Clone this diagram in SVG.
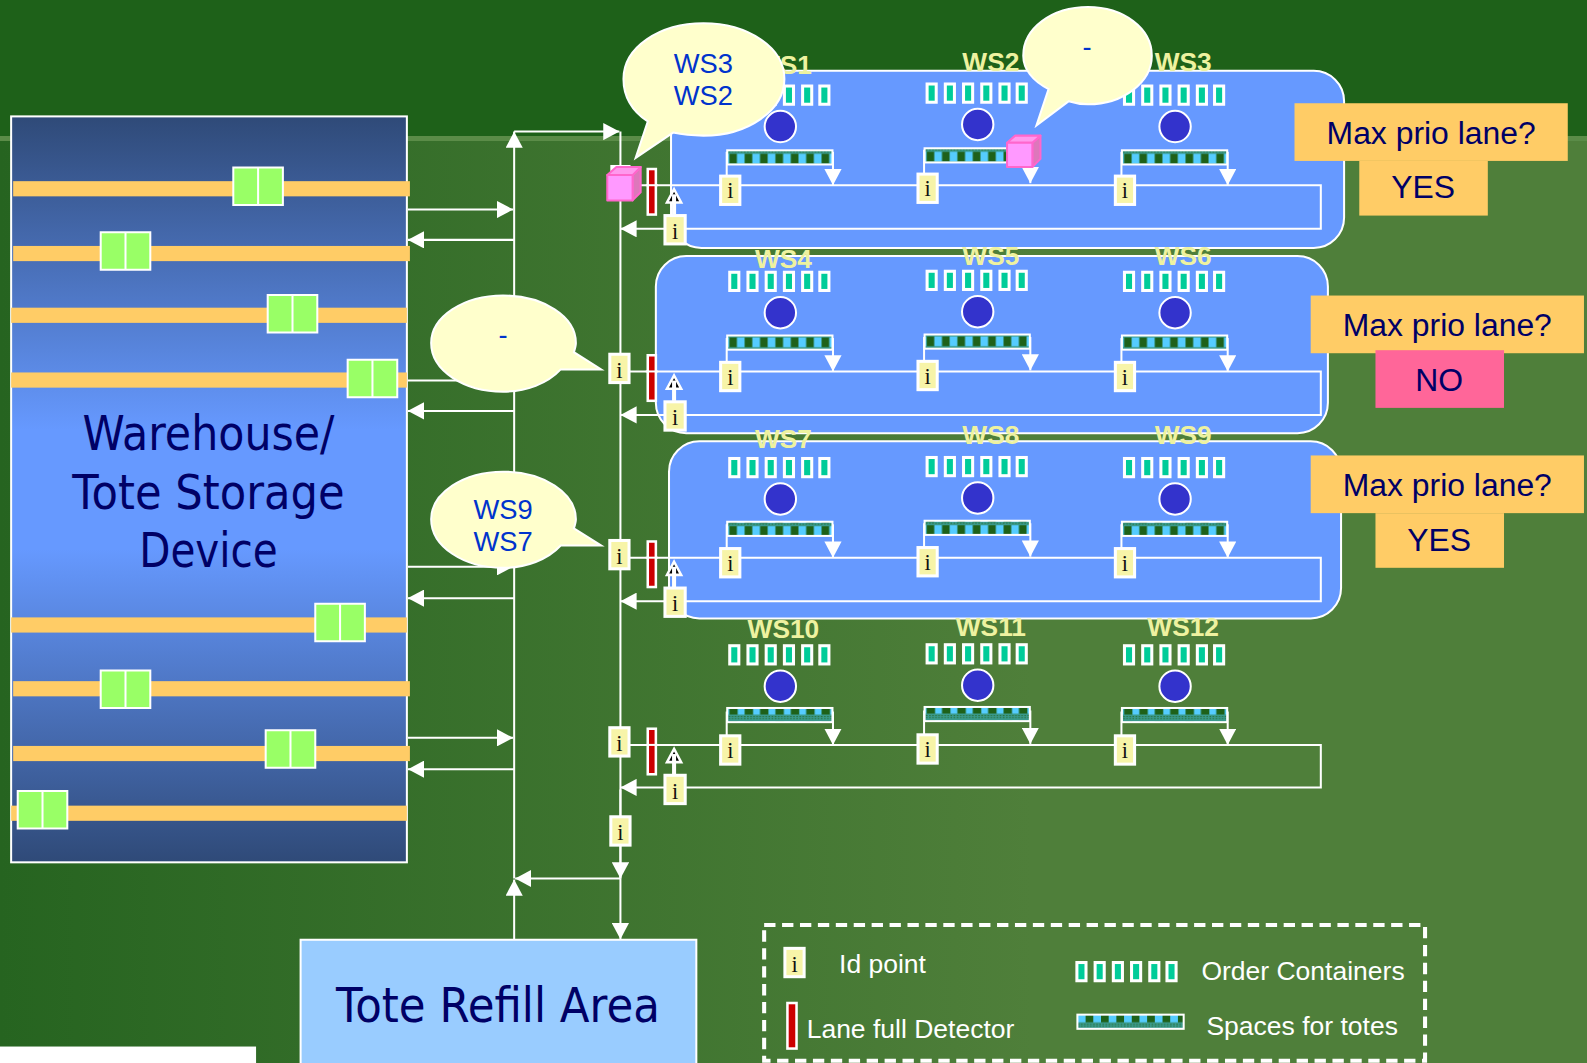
<svg xmlns="http://www.w3.org/2000/svg" width="1587" height="1063" viewBox="0 0 1587 1063">
<style>
.c{fill:none;stroke:#fff;stroke-width:2}
.ar{marker-end:url(#tri)}
.pan{fill:#6699ff;stroke:#fff;stroke-width:2}
.lane{fill:#ffcc66}
.tote{fill:#99ff66;stroke:#fff;stroke-width:2}
.ib{fill:#f7f4a8;stroke:#fff;stroke-width:3}
.it{font:22px "Liberation Serif",serif;fill:#111;text-anchor:middle}
.oc{fill:#00cc99;stroke:#fff;stroke-width:3}
.det{fill:#cc0000;stroke:#fff;stroke-width:2.500}
.lbl{font:bold 26px "Liberation Sans",Arial,sans-serif;fill:#eef2a0;text-anchor:middle}
.bub{fill:#ffffcc;stroke:#fff;stroke-width:2}
.bt{font:27px "Liberation Sans",Arial,sans-serif;fill:#0033cc;text-anchor:middle}
.pr{fill:#ffcc66}
.pt{font:31.500px "Liberation Sans",Arial,sans-serif;fill:#000066;text-anchor:middle}
.big{font:47px "DejaVu Sans",sans-serif;fill:#000066;text-anchor:middle}
.lg{font:26.200px "Liberation Sans",Arial,sans-serif;fill:#fff}
.cube{stroke:#ff66cc;stroke-width:2;stroke-linejoin:round}
.spr{stroke:#fff;stroke-width:2}
.a{fill:url(#spA)}.b{fill:url(#spB)}.d{fill:url(#spC)}
</style>
<defs>
<linearGradient id="bg" x1="0" x2="1" y1="0" y2="0"><stop offset="0" stop-color="#266420"/><stop offset=".65" stop-color="#4f7f3a"/><stop offset="1" stop-color="#4f7f3a"/></linearGradient>
<linearGradient id="wh" x1="0" x2="0" y1="0" y2="1"><stop offset="0" stop-color="#2f4a78"/><stop offset=".42" stop-color="#6699ff"/><stop offset=".58" stop-color="#6699ff"/><stop offset="1" stop-color="#2f4a78"/></linearGradient>
<marker id="tri" markerUnits="userSpaceOnUse" markerWidth="16" markerHeight="17" viewBox="0 0 16 17" refX="16" refY="8.500" orient="auto"><path d="M0 0L16 8.500L0 17Z" fill="#fff"/></marker>
<pattern id="spA" patternUnits="userSpaceOnUse" width="15.200" height="13" x="720" y="149">
<rect width="15.200" height="13" fill="#3a9a8c"/><path d="M0 1h15.200" stroke="#1e6119" stroke-width=".7" stroke-dasharray="1.500 1.500"/><rect x="1" y="3" width="7.200" height="9.500" fill="#1e6119"/><rect x="8.200" y="3" width="7" height="9.500" fill="#55ccff"/>
</pattern>
<pattern id="spB" patternUnits="userSpaceOnUse" width="15.200" height="13" x="720" y="148">
<rect width="15.200" height="13" fill="#3a9a8c"/><rect x="1" y="1.500" width="7.200" height="9.500" fill="#1e6119"/><rect x="8.200" y="1.500" width="7" height="9.500" fill="#55ccff"/>
</pattern>
<pattern id="spC" patternUnits="userSpaceOnUse" width="15.200" height="13" x="720" y="147">
<rect width="15.200" height="13" fill="#3a9a8c"/><path d="M0 8h15.200M0 10h15.200" stroke="#1e6119" stroke-width=".7" stroke-dasharray="1.500 1.500"/><rect x="1" y="0" width="8" height="6" fill="#1e6119"/><rect x="9" y="0" width="6.200" height="6" fill="#55ccff"/>
</pattern>
<pattern id="spL" patternUnits="userSpaceOnUse" width="15.200" height="14" x="1065" y="1003">
<rect width="15.200" height="14" fill="#3a9a8c"/><path d="M0 9h15.200M0 11h15.200" stroke="#1e6119" stroke-width=".7" stroke-dasharray="1.500 1.500"/><rect x="0" y="0" width="7.600" height="7" fill="#55ccff"/><rect x="7.600" y="0" width="7.600" height="7" fill="#1e6119"/>
</pattern>
<g id="oc6">
<rect class="oc" x="721" y="85" width="9" height="18"/><rect class="oc" x="739" y="85" width="9" height="18"/><rect class="oc" x="757" y="85" width="9" height="18"/><rect class="oc" x="775" y="85" width="9" height="18"/><rect class="oc" x="793" y="85" width="9" height="18"/><rect class="oc" x="810" y="85" width="9" height="18"/>
</g>
<g id="base">
<use href="#oc6"/>
<circle cx="771" cy="125" r="15.500" fill="#3333cc" stroke="#fff" stroke-width="2"/>
<path class="c" d="M718 150V175"/><path class="c ar" d="M823 150V183"/>
<rect class="ib" x="712" y="174" width="19" height="28"/>
</g>
<polygon id="upa" points="666,187 673,200 659,200" fill="#000" stroke="#fff" stroke-width="2.500"/>
</defs>

<rect width="1587" height="1063" fill="url(#bg)"/>
<rect width="1587" height="137" fill="#1e6119"/>
<rect y="136" width="1587" height="5" fill="#5b8c48"/>

<g transform="scale(1.01212)">
<rect x="0" y="1034" width="253" height="18" fill="#fff"/>

<g id="panels">
<rect class="pan" x="663" y="70" width="665" height="175" rx="30"/>
<rect class="pan" x="648" y="253" width="664" height="175" rx="30"/>
<rect class="pan" x="661" y="436" width="664" height="175" rx="30"/>
</g>

<g id="warehouse">
<rect x="11" y="115" width="391" height="737" fill="url(#wh)" stroke="#fff" stroke-width="2"/>
<rect class="lane" x="13" y="179" width="392" height="15"/>
<rect class="lane" x="13" y="243" width="392" height="15"/>
<rect class="lane" x="11" y="304" width="391" height="15"/>
<rect class="lane" x="11" y="368" width="391" height="15"/>
<rect class="lane" x="11" y="610" width="391" height="15"/>
<rect class="lane" x="13" y="673" width="392" height="15"/>
<rect class="lane" x="13" y="737" width="392" height="15"/>
<rect class="lane" x="11" y="796" width="391" height="15"/>
<path class="tote" d="M230.500 165.500h49v37h-49zM255 165v38"/>
<path class="tote" d="M99.500 229.500h49v37h-49zM124 229v38"/>
<path class="tote" d="M264.500 291.500h49v37h-49zM289 291v38"/>
<path class="tote" d="M343.500 355.500h49v37h-49zM368 355v38"/>
<path class="tote" d="M311.500 596.500h49v37h-49zM336 596v38"/>
<path class="tote" d="M99.500 662.500h49v37h-49zM124 662v38"/>
<path class="tote" d="M262.500 721.500h49v37h-49zM287 721v38"/>
<path class="tote" d="M17.500 781.500h49v37h-49zM42 781v38"/>
<text class="big" x="206" y="445" textLength="249" lengthAdjust="spacingAndGlyphs">Warehouse/</text>
<text class="big" x="206" y="503" textLength="269" lengthAdjust="spacingAndGlyphs">Tote Storage</text>
<text class="big" x="206" y="560" textLength="137" lengthAdjust="spacingAndGlyphs">Device</text>
</g>

<g id="connectors">
<path class="c ar" d="M508 868V130"/>
<path class="c ar" d="M508 928V869"/>
<path class="c ar" d="M508 130H612"/>
<path class="c" d="M613 130V868"/>
<path class="c ar" d="M613 780V868"/>
<path class="c ar" d="M613 868V928"/>
<path class="c ar" d="M613 868H509"/>
<path class="c ar" d="M403 207H507"/><path class="c ar" d="M508 237H403"/>
<path class="c ar" d="M403 376H507"/><path class="c ar" d="M508 406H403"/>
<path class="c ar" d="M403 560H507"/><path class="c ar" d="M508 591H403"/>
<path class="c ar" d="M403 729H507"/><path class="c ar" d="M508 760H403"/>
<path class="c ar" d="M613 183H1305V226H613"/>
<path class="c ar" d="M613 367H1305V410H613"/>
<path class="c ar" d="M613 551H1305V594H613"/>
<path class="c ar" d="M613 736H1305V778H613"/>
</g>

<g id="ws1"><use href="#base"/><rect class="spr a" x="718.500" y="148.500" width="104" height="14"/><text class="it" x="721.500" y="196">i</text><text class="lbl" x="774" y="73">WS1</text></g>
<g id="ws2" transform="translate(195,-2)"><use href="#base"/><rect class="spr a" x="718.500" y="148.500" width="104" height="14"/><text class="it" x="721.500" y="196">i</text><text class="lbl" x="784" y="72">WS2</text></g>
<g id="ws3" transform="translate(390,0)"><use href="#base"/><rect class="spr a" x="718.500" y="148.500" width="104" height="14"/><text class="it" x="721.500" y="196">i</text><text class="lbl" x="779" y="70">WS3</text></g>
<g id="ws4" transform="translate(0,184)"><use href="#base"/><rect class="spr b" x="718.500" y="147.500" width="104" height="14"/><text class="it" x="721.500" y="196">i</text><text class="lbl" x="774" y="81">WS4</text></g>
<g id="ws5" transform="translate(195,183)"><use href="#base"/><rect class="spr b" x="718.500" y="147.500" width="104" height="14"/><text class="it" x="721.500" y="196">i</text><text class="lbl" x="784" y="79">WS5</text></g>
<g id="ws6" transform="translate(390,184)"><use href="#base"/><rect class="spr b" x="718.500" y="147.500" width="104" height="14"/><text class="it" x="721.500" y="196">i</text><text class="lbl" x="779" y="78">WS6</text></g>
<g id="ws7" transform="translate(0,368)"><use href="#base"/><rect class="spr a" x="718.500" y="147.500" width="104" height="14"/><text class="it" x="721.500" y="196">i</text><text class="lbl" x="774" y="75">WS7</text></g>
<g id="ws8" transform="translate(195,367)"><use href="#base"/><rect class="spr a" x="718.500" y="147.500" width="104" height="14"/><text class="it" x="721.500" y="196">i</text><text class="lbl" x="784" y="72">WS8</text></g>
<g id="ws9" transform="translate(390,368)"><use href="#base"/><rect class="spr a" x="718.500" y="147.500" width="104" height="14"/><text class="it" x="721.500" y="196">i</text><text class="lbl" x="779" y="71">WS9</text></g>
<g id="ws10" transform="translate(0,553)"><use href="#base"/><rect class="spr d" x="718.500" y="146.500" width="104" height="14"/><text class="it" x="721.500" y="196">i</text><text class="lbl" x="774" y="77">WS10</text></g>
<g id="ws11" transform="translate(195,552)"><use href="#base"/><rect class="spr d" x="718.500" y="146.500" width="104" height="14"/><text class="it" x="721.500" y="196">i</text><text class="lbl" x="784" y="76">WS11</text></g>
<g id="ws12" transform="translate(390,553)"><use href="#base"/><rect class="spr d" x="718.500" y="146.500" width="104" height="14"/><text class="it" x="721.500" y="196">i</text><text class="lbl" x="779" y="75">WS12</text></g>

<g id="lane-head-1">
<rect class="det" x="640" y="167" width="8" height="45"/><path class="c" d="M638 183H650"/>
<use href="#upa"/><path d="M666 212V192" stroke="#fff" stroke-width="4"/>
<rect class="ib" x="657" y="213" width="20" height="28"/><text class="it" x="667" y="236">i</text>
</g>
<g id="lane-head-2" transform="translate(0,184)">
<rect class="det" x="640" y="167" width="8" height="45"/><path class="c" d="M638 183H650"/>
<use href="#upa"/><path d="M666 212V192" stroke="#fff" stroke-width="4"/>
<rect class="ib" x="657" y="213" width="20" height="28"/><text class="it" x="667" y="236">i</text>
<rect class="ib" x="602.500" y="166" width="19" height="28"/><text class="it" x="612" y="189">i</text>
</g>
<g id="lane-head-3" transform="translate(0,368)">
<rect class="det" x="640" y="167" width="8" height="45"/><path class="c" d="M638 183H650"/>
<use href="#upa"/><path d="M666 212V192" stroke="#fff" stroke-width="4"/>
<rect class="ib" x="657" y="213" width="20" height="28"/><text class="it" x="667" y="236">i</text>
<rect class="ib" x="602.500" y="166" width="19" height="28"/><text class="it" x="612" y="189">i</text>
</g>
<g id="lane-head-4" transform="translate(0,553)">
<rect class="det" x="640" y="167" width="8" height="45"/><path class="c" d="M638 183H650"/>
<use href="#upa"/><path d="M666 212V192" stroke="#fff" stroke-width="4"/>
<rect class="ib" x="657" y="213" width="20" height="28"/><text class="it" x="667" y="236">i</text>
<rect class="ib" x="602.500" y="166" width="19" height="28"/><text class="it" x="612" y="189">i</text>
</g>
<g id="id-trunk"><rect class="ib" x="603.500" y="807" width="19" height="28"/><text class="it" x="613" y="830">i</text></g>

<g id="cube1">
<rect x="603" y="163" width="20" height="10" fill="#fff"/>
<path class="cube" fill="#dd77bb" d="M625 173L633 165V190L625 198Z"/>
<path class="cube" fill="#ff99ee" d="M600 173L609 165H633L625 173Z"/>
<path class="cube" fill="#ff99ff" d="M600 173H625V198H600Z"/>
</g>
<g id="cube2">
<path class="cube" fill="#dd77bb" d="M1020 141L1028 134V157L1020 165Z"/>
<path class="cube" fill="#ff99ee" d="M995 141L1003 134H1028L1020 141Z"/>
<path class="cube" fill="#ff99ff" d="M995 141H1020V165H995Z"/>
</g>

<g id="bubble1"><path class="bub" d="M640 120C622 108 616 93 616 78C616 47 651 23 695 23C739 23 775 47 775 78C775 109 739 134 695 134C684 134 674 133 665 131L628 156Z"/><text class="bt" x="695" y="72">WS3</text><text class="bt" x="695" y="104">WS2</text></g>
<g id="bubble2"><path class="bub" d="M1036 88C1020 80 1011 68 1011 55C1011 28 1039 7 1075 7C1110 7 1138 28 1138 55C1138 81 1110 103 1075 103C1068 103 1062 102 1056 100L1024 124Z"/><text class="bt" x="1074" y="55">-</text></g>
<g id="bubble3"><path class="bub" d="M567 348C568 345 569 342 569 339C569 313 537 292 497 292C458 292 426 313 426 339C426 366 458 387 497 387C520 387 541 379 554 365L594 365Z"/><text class="bt" x="497" y="340">-</text></g>
<g id="bubble4" transform="translate(0,174)"><path class="bub" d="M567 348C568 345 569 342 569 339C569 313 537 292 497 292C458 292 426 313 426 339C426 366 458 387 497 387C520 387 541 379 554 365L594 365Z"/><text class="bt" x="497" y="339">WS9</text><text class="bt" x="497" y="370">WS7</text></g>

<g id="prio1"><rect class="pr" x="1279" y="102" width="270" height="57"/><rect class="pr" x="1343" y="159" width="127" height="54"/><text class="pt" x="1414" y="142">Max prio lane?</text><text class="pt" x="1406" y="196">YES</text></g>
<g id="prio2"><rect class="pr" x="1295" y="292" width="270" height="57"/><rect x="1359" y="346" width="127" height="57" fill="#ff6699"/><text class="pt" x="1430" y="332">Max prio lane?</text><text class="pt" x="1422" y="386">NO</text></g>
<g id="prio3"><rect class="pr" x="1295" y="450" width="270" height="57"/><rect class="pr" x="1359" y="507" width="127" height="54"/><text class="pt" x="1430" y="490">Max prio lane?</text><text class="pt" x="1422" y="544">YES</text></g>

<g id="tote-refill"><rect x="297" y="928.500" width="391" height="130" fill="#99ccff" stroke="#fff" stroke-width="2"/><text class="big" x="492" y="1010" textLength="320" lengthAdjust="spacingAndGlyphs">Tote Refill Area</text></g>

<g id="legend">
<rect x="755" y="914" width="653" height="134" fill="none" stroke="#fff" stroke-width="4" stroke-dasharray="11.200 6.500"/>
<rect class="ib" x="775.500" y="937" width="19" height="28"/><text class="it" x="785" y="960">i</text>
<text class="lg" x="829" y="961">Id point</text>
<rect class="det" x="778" y="991" width="9" height="45"/>
<text class="lg" x="797" y="1026">Lane full Detector</text>
<use href="#oc6" transform="translate(343,866)"/>
<text class="lg" x="1187" y="968">Order Containers</text>
<rect class="spr" x="1064.500" y="1002.500" width="105" height="14" fill="url(#spL)"/>
<text class="lg" x="1192" y="1023">Spaces for totes</text>
</g>
</g>
</svg>
